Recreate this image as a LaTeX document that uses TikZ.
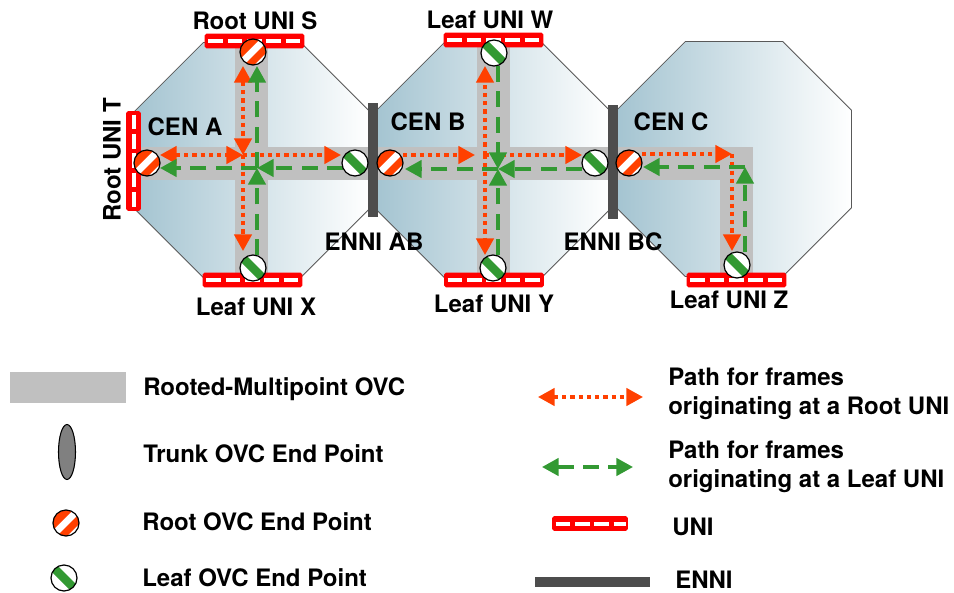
\documentclass[tikz,border=0pt]{standalone}
\usepackage{fontspec}
\setmainfont{TeX Gyre Heros}
\usetikzlibrary{shapes.geometric,arrows.meta}
\definecolor{rootred}{RGB}{255,64,0}
\definecolor{leafgreen}{RGB}{51,153,51}
\definecolor{unired}{RGB}{255,0,0}
\definecolor{ovcgray}{RGB}{192,192,192}
\definecolor{ennigray}{RGB}{77,77,77}
\definecolor{cenblue}{RGB}{164,196,209}
\tikzset{
  cen/.style={regular polygon, regular polygon sides=8, minimum size=190.8pt, inner sep=0pt,
    draw=black!65, line width=0.6pt, left color=cenblue, right color=white},
  ovc/.style={fill=ovcgray},
  enni/.style={fill=ennigray, inner sep=0pt, minimum width=7.5pt, minimum height=85.5pt},
  endpt/.style={circle, fill=white, inner sep=0pt, minimum size=19.5pt},
  unidash/.style={white, line width=3pt, dash pattern=on 11pt off 3.5pt, dash phase=-2pt},
  uni/.style={draw=unired, fill=unired, line width=1.2pt, rounded corners=1pt, inner sep=0pt},
  unih/.style={uni, minimum width=73.5pt, minimum height=9.75pt,
    path picture={\draw[unidash] (path picture bounding box.west) -- (path picture bounding box.east);}},
  univ/.style={uni, minimum width=9.75pt, minimum height=73.5pt,
    path picture={\draw[unidash] (path picture bounding box.north) -- (path picture bounding box.south);}},
  rootpath/.style={color=rootred, line width=2.7pt, dash pattern=on 3.2pt off 3pt},
  leafpath/.style={color=leafgreen, line width=2.7pt, dash pattern=on 12pt off 7pt},
  lbl/.style={font=\bfseries\fontsize{18}{21.75}\selectfont, inner sep=0pt},
  >={Triangle[length=12.5pt,width=13pt]}
}
\newcommand{\rootend}[2]{%
  \node[endpt] (#1) at (#2) {};
  \begin{scope}[shift={(#2)}]
    \clip (0,0) circle[radius=13];
    \fill[rootred] (-20,-20) -- (-20,14) -- (14,-20) -- cycle;
    \fill[rootred] (-20,24) -- (24,-20) -- (34,-20) -- (-20,34) -- cycle;
  \end{scope}
  \draw[line width=0.9pt] (#1.center) circle[radius=13];}
\newcommand{\leafend}[2]{%
  \node[endpt] (#1) at (#2) {};
  \begin{scope}[shift={(#2)}]
    \clip (0,0) circle[radius=13];
    \fill[leafgreen] (-20,-26) -- (26,20) -- (20,26) -- (-26,-20) -- cycle;
  \end{scope}
  \draw[line width=0.9pt] (#1.center) circle[radius=13];}
\begin{document}
\begin{tikzpicture}[x=0.75pt,y=-0.75pt]
	\useasboundingbox (0,0) rectangle (954,593);
	\node[cen] (cenA) at (252,160) {};
	\node[cen] (cenB) at (493,160) {};
	\node[cen] (cenC) at (734,159) {};
	\fill[ovc] (140,147) rectangle (753,180);
	\fill[ovc] (235,45) rectangle (268,275);
	\fill[ovc] (477,45) rectangle (510,275);
	\fill[ovc] (720,147) rectangle (753,275);
	\node[unih] (uniS) at (254.5,41) {};
	\node[univ] (uniT) at (133.5,161) {};
	\node[unih] (uniX) at (252.5,280) {};
	\node[unih] (uniW) at (493.5,40) {};
	\node[unih] (uniY) at (494,280) {};
	\node[unih] (uniZ) at (736.5,280) {};
	\node[enni] (enniAB) at (373,160) {};
	\node[enni] (enniBC) at (613,161.5) {};
	\coordinate (rT) at (160,155);
	\coordinate (rA) at (243,155);
	\coordinate (rS) at (243,66);
	\coordinate (rX) at (243,251);
	\coordinate (rE) at (341,155);
	\coordinate (gA) at (257,168);
	\coordinate (gT) at (160,168);
	\coordinate (gS) at (257,66);
	\coordinate (gX) at (257,255);
	\coordinate (gE) at (343,168);
	\coordinate (rB) at (485,155);
	\coordinate (rBL) at (403,155);
	\coordinate (rBR) at (582,155);
	\coordinate (rW) at (485,66);
	\coordinate (rY) at (485,255);
	\coordinate (gB) at (498,169);
	\coordinate (gBL) at (405,169);
	\coordinate (gBR) at (582,169);
	\coordinate (gW) at (498,66);
	\coordinate (gY) at (498,255);
	\coordinate (rC) at (732,154);
	\coordinate (rCL) at (642,154);
	\coordinate (rZ) at (732,251);
	\coordinate (gC) at (745,167);
	\coordinate (gCL) at (643,167);
	\coordinate (gZ) at (745,252);
	\draw[rootpath,<->] (rT) -- (rA);
	\draw[rootpath,<->] (rS) -- (rA);
	\draw[rootpath,->] (rA) -- (rX);
	\draw[rootpath,->] (rA) -- (rE);
	\draw[leafpath,->] (gX) -- (gA);
	\draw[leafpath,->] (gE) -- (gA);
	\draw[leafpath,->] (gA) -- (gS);
	\draw[leafpath,->] (gA) -- (gT);
	\draw[rootpath,->,shorten >=7.5pt] (rBL) -- (rB);
	\draw[rootpath,->] (rB) -- (rBR);
	\draw[rootpath,->] (rB) -- (rW);
	\draw[rootpath,->] (rB) -- (rY);
	\draw[leafpath,->] (gBR) -- (gB);
	\draw[leafpath,->] (gW) -- (gB);
	\draw[leafpath,->] (gY) -- (gB);
	\draw[leafpath,->] (gB) -- (gBL);
	\draw[rootpath,->] (rCL) -- (rC);
	\draw[rootpath,->] (rC) -- (rZ);
	\draw[leafpath,->] (gZ) -- (gC);
	\draw[leafpath,->] (gC) -- (gCL);
	\rootend{epS}{253,52}
	\rootend{epT}{147,163}
	\leafend{epX}{253,268}
	\leafend{epAB}{355,163}
	\rootend{epBA}{390,163}
	\leafend{epW}{494,53}
	\leafend{epY}{493,268}
	\leafend{epBC}{595,163}
	\rootend{epCB}{629,163}
	\leafend{epZ}{737,265}
	\node[lbl,anchor=base] (lS) at (255,29) {Root UNI S};
	\node[lbl,rotate=90] (lT) at (112,160) {Root UNI T};
	\node[lbl,anchor=base] (lA) at (185,135) {CEN A};
	\node[lbl,anchor=base] (lX) at (256,315) {Leaf UNI X};
	\node[lbl,anchor=base] (lAB) at (374,250) {ENNI AB};
	\node[lbl,anchor=base] (lW) at (490,28) {Leaf UNI W};
	\node[lbl,anchor=base] (lB) at (428,130) {CEN B};
	\node[lbl,anchor=base] (lY) at (494,312) {Leaf UNI Y};
	\node[lbl,anchor=base] (lBC) at (613,250) {ENNI BC};
	\node[lbl,anchor=base] (lC) at (671,130) {CEN C};
	\node[lbl,anchor=base] (lZ) at (729,308) {Leaf UNI Z};
	\fill[ovc] (10,372) rectangle (126,403);
	\node[ellipse, fill=black!50, draw=black, line width=0.8pt, inner sep=0pt,
	  minimum width=12.75pt, minimum height=41.25pt] (trunkKey) at (67,452) {};
	\rootend{rootKey}{66,523}
	\leafend{leafKey}{64,578}
	\coordinate (rk1) at (538,397);
	\coordinate (rk2) at (643,397);
	\coordinate (gk1) at (542,467);
	\coordinate (gk2) at (633,467);
	\draw[rootpath,<->] (rk1) -- (rk2);
	\draw[leafpath,<->] (gk1) -- (gk2);
	\node[unih, minimum width=55.5pt] (uniKey) at (590,523.5) {};
	\node[enni, minimum width=86.25pt, minimum height=7.5pt] (enniKey) at (592.5,582) {};
	\node[lbl,anchor=base west] (k1) at (143,395) {Rooted-Multipoint OVC};
	\node[lbl,anchor=base west] (k2) at (143,462) {Trunk OVC End Point};
	\node[lbl,anchor=base west] (k3) at (142,530) {Root OVC End Point};
	\node[lbl,anchor=base west] (k4) at (142,586) {Leaf OVC End Point};
	\node[lbl,anchor=west,align=left] (k5) at (668,394) {Path for frames\\originating at a Root UNI};
	\node[lbl,anchor=west,align=left] (k6) at (668,467) {Path for frames\\originating at a Leaf UNI};
	\node[lbl,anchor=base west] (k7) at (672,535) {UNI};
	\node[lbl,anchor=base west] (k8) at (675,588) {ENNI};
\end{tikzpicture}
\end{document}
